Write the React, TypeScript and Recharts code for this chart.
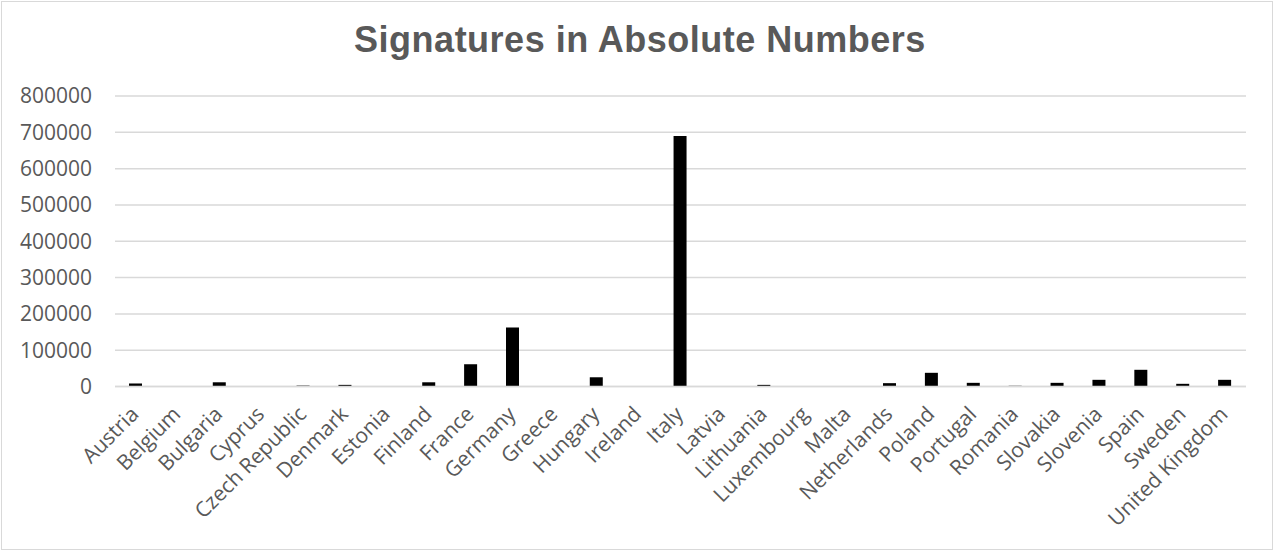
import { BarChart, Bar, XAxis, YAxis, CartesianGrid } from "recharts";

const countries = [
  "Austria",
  "Belgium",
  "Bulgaria",
  "Cyprus",
  "Czech Republic",
  "Denmark",
  "Estonia",
  "Finland",
  "France",
  "Germany",
  "Greece",
  "Hungary",
  "Ireland",
  "Italy",
  "Latvia",
  "Lithuania",
  "Luxembourg",
  "Malta",
  "Netherlands",
  "Poland",
  "Portugal",
  "Romania",
  "Slovakia",
  "Slovenia",
  "Spain",
  "Sweden",
  "United Kingdom",
];

const signatures = [
  8300, 300, 11600, 500, 2500, 4500, 1000, 11600, 61300, 162500, 1000, 25400,
  1000, 690000, 1000, 4500, 500, 500, 9200, 37700, 10100, 2000, 10100, 18400,
  46000, 7400, 18400,
];

const yTicks = [0, 100000, 200000, 300000, 400000, 500000, 600000, 700000, 800000];

const data = countries.map((country, i) => ({ country, signatures: signatures[i] }));

const TEXT = "#595959";
const FONT = "'Open Sans', sans-serif";

interface TickProps {
  x?: number;
  y?: number;
  payload?: { value: string };
}

// country names slanted at -45°, right end tucked under the bar
const CountryTick = ({ x = 0, y = 0, payload }: TickProps) => (
  <g transform={`translate(${x + 4},${y + 21})`}>
    <text
      transform="rotate(-45)"
      textAnchor="end"
      fill={TEXT}
      fontSize={21}
      fontFamily={FONT}
    >
      {payload?.value}
    </text>
  </g>
);

const App = () => {
  return (
    <div
      style={{
        position: "absolute",
        left: 0,
        top: 0,
        width: 1274,
        height: 551,
        background: "#fff",
      }}
    >
      <div
        style={{
          position: "absolute",
          left: 1,
          top: 1,
          width: 1270,
          height: 547,
          border: "1px solid #d9d9d9",
        }}
      />
      <div
        style={{
          position: "absolute",
          left: 3,
          top: 19,
          width: 1274,
          textAlign: "center",
          fontFamily: "'Liberation Sans', Arial, sans-serif",
          fontWeight: "bold",
          fontSize: 36,
          letterSpacing: 0.5,
          color: TEXT,
        }}
      >
        Signatures in Absolute Numbers
      </div>
      <BarChart
        width={1274}
        height={551}
        data={data}
        margin={{ top: 96, right: 28, bottom: 4.5, left: 0 }}
        barSize={13}
      >
        <CartesianGrid vertical={false} stroke="#d9d9d9" strokeWidth={1.5} />
        <XAxis
          dataKey="country"
          interval={0}
          height={160}
          axisLine={{ stroke: "#d9d9d9", strokeWidth: 1.5 }}
          tickLine={false}
          tick={<CountryTick />}
        />
        <YAxis
          width={115}
          domain={[0, 800000]}
          ticks={yTicks}
          axisLine={false}
          tickLine={false}
          tickMargin={17}
          tick={{ fill: TEXT, fontSize: 21, fontFamily: FONT }}
        />
        <Bar dataKey="signatures" fill="#000000" isAnimationActive={false} />
      </BarChart>
    </div>
  );
};

export default App;
